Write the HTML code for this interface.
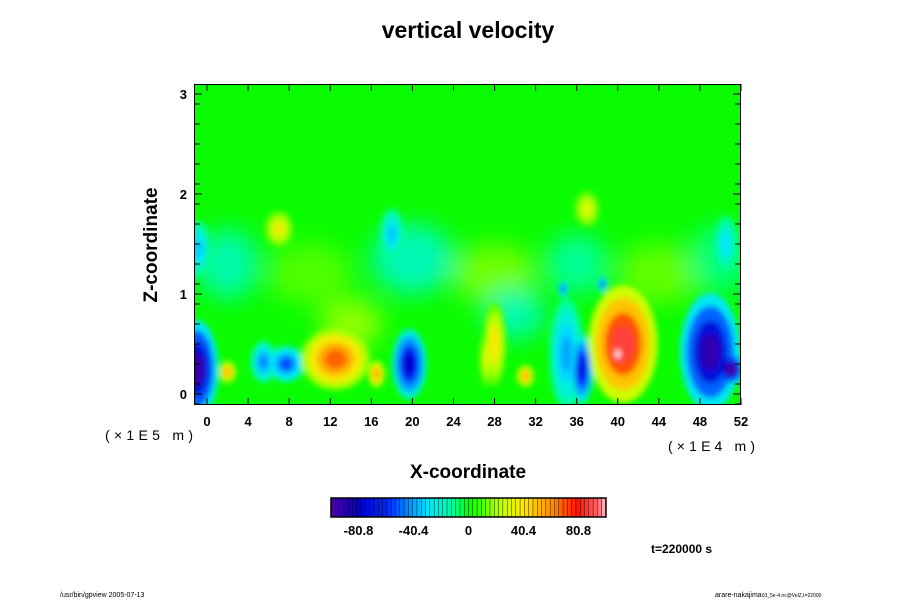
<!DOCTYPE html>
<html><head><meta charset="utf-8"><style>
body{margin:0;background:#fff;width:900px;height:600px;overflow:hidden;font-family:"Liberation Sans",sans-serif}
svg text{font-family:"Liberation Sans",sans-serif}
</style></head><body>
<svg id="c" width="900" height="600" xmlns="http://www.w3.org/2000/svg">
<defs>
<clipPath id="pc"><rect x="194" y="84" width="547" height="321"/></clipPath>
<filter id="bl" x="-50%" y="-50%" width="200%" height="200%"><feGaussianBlur stdDeviation="3"/></filter>
<filter id="bl2" x="-50%" y="-50%" width="200%" height="200%"><feGaussianBlur stdDeviation="12"/></filter>
</defs>
<text x="468" y="38" text-anchor="middle" font-size="23" font-weight="bold">vertical velocity</text>
<g id="plot" clip-path="url(#pc)"></g>
<g id="axes"></g>
<text transform="translate(157,245) rotate(-90)" text-anchor="middle" font-size="19" font-weight="bold">Z-coordinate</text>
<text x="468" y="478" text-anchor="middle" font-size="19" font-weight="bold">X-coordinate</text>
<text x="105" y="440" font-size="14" textLength="88" lengthAdjust="spacing" font-family="Liberation Mono">(×1E5 m)</text>
<text x="668" y="451" font-size="14" textLength="87" lengthAdjust="spacing" font-family="Liberation Mono">(×1E4 m)</text>
<g id="cbar"></g>
<text x="651" y="553" font-size="12" font-weight="bold">t=220000 s</text>
<text x="60" y="597" font-size="7">/usr/bin/gpview 2005-07-13</text>
<text x="715" y="597" font-size="7">arare-nakajima<tspan font-size="5">03_5e-4.nc@VelZ,t=22000</tspan></text>
</svg>
<script>
const NS="http://www.w3.org/2000/svg";
const xTicks=[0,4,8,12,16,20,24,28,32,36,40,44,48,52];
const zTicks=[0,1,2,3];
const cbLabels=[-80.8,-40.4,0,40.4,80.8];
// soft background features: x, z, rx, rz, value
const bx=[2,10,20,28,36,44,50,14,30];
const bz=[1.3,1.2,1.35,1.2,1.3,1.2,1.35,0.7,0.8];
const brx=[3,4,4,4,3,4,3,3,3];
const brz=[0.35,0.3,0.35,0.3,0.3,0.3,0.35,0.25,0.25];
const bv=[-14,10,-16,14,-10,12,-8,18,-14];
// sharp features: x, z, radius x, radius z, value
const fx=[-1,2,5.5,7.7,12.5,16.5,19.7,28,27.2,31,35,36.5,40.5,40,49,51,7,18,37,34.7,38.5,-0.8,50.5];
const fz=[0.25,0.22,0.32,0.3,0.35,0.2,0.3,0.5,0.35,0.18,0.4,0.25,0.5,0.4,0.42,0.25,1.65,1.6,1.85,1.05,1.1,1.45,1.5];
const frx=[1.5,0.6,0.9,1.3,2.4,0.6,1.2,0.8,0.5,0.6,1.2,0.8,2.4,0.5,2.1,1.0,1.0,0.8,0.9,0.35,0.35,0.8,0.8];
const frz=[0.35,0.08,0.15,0.13,0.22,0.1,0.25,0.3,0.2,0.08,0.4,0.25,0.42,0.1,0.42,0.12,0.13,0.18,0.13,0.06,0.06,0.2,0.2];
const fv=[-95,55,-45,-55,68,55,-78,40,30,55,-40,-75,88,105,-92,-100,35,-35,30,-55,-55,-35,-30];
function X(v){return 207+v*(741-207)/52}
function Z(v){return 394-v*100}
function cmap(v){
  const stops=[[-101,[80,0,160]],[-80,[0,0,200]],[-60,[0,40,255]],[-30,[0,230,255]],[-10,[0,255,150]],[0,[0,255,0]],[25,[200,255,0]],[40,[255,230,0]],[60,[255,150,0]],[80,[255,20,0]],[95,[255,100,110]],[105,[255,255,255]]];
  if(v<=stops[0][0])return "rgb("+stops[0][1]+")";
  for(let i=1;i<stops.length;i++){if(v<=stops[i][0]){const a=stops[i-1],b=stops[i],t=(v-a[0])/(b[0]-a[0]);return "rgb("+a[1].map((c,k)=>Math.round(c+(b[1][k]-c)*t)).join(",")+")";}}
  return "rgb(255,255,255)";
}
const plot=document.getElementById('plot');
const bg=document.createElementNS(NS,'rect');
bg.setAttribute('x',194);bg.setAttribute('y',84);bg.setAttribute('width',547);bg.setAttribute('height',321);bg.setAttribute('fill','rgb(10,252,0)');


plot.appendChild(bg);
const g0=document.createElementNS(NS,'g');g0.setAttribute('filter','url(#bl2)');plot.appendChild(g0);
for(let i=0;i<bx.length;i++){
  const e=document.createElementNS(NS,'ellipse');
  e.setAttribute('cx',X(bx[i]));e.setAttribute('cy',Z(bz[i]));
  e.setAttribute('rx',brx[i]*10.27);e.setAttribute('ry',brz[i]*100);
  e.setAttribute('fill',cmap(bv[i]));
  
  
  g0.appendChild(e);
}
const g=document.createElementNS(NS,'g');g.setAttribute('filter','url(#bl)');plot.appendChild(g);
const scales=[1.4,1.1,0.75,0.45],fr=[0.3,0.55,0.8,1];
for(let s=0;s<scales.length;s++){
  for(let i=0;i<fx.length;i++){
    const e=document.createElementNS(NS,'ellipse');
    e.setAttribute('cx',X(fx[i]));e.setAttribute('cy',Z(fz[i]));
    e.setAttribute('rx',frx[i]*10.27*scales[s]);e.setAttribute('ry',frz[i]*100*scales[s]);
    e.setAttribute('fill',cmap(fv[i]*fr[s]));
    
    
    g.appendChild(e);
  }
}
const ax=document.getElementById('axes');
function line(x1,y1,x2,y2,w){const l=document.createElementNS(NS,'line');l.setAttribute('x1',x1);l.setAttribute('y1',y1);l.setAttribute('x2',x2);l.setAttribute('y2',y2);l.setAttribute('stroke','#000');l.setAttribute('stroke-width',w||1);


ax.appendChild(l);}
const fr2=document.createElementNS(NS,'rect');fr2.setAttribute('x',194.5);fr2.setAttribute('y',84.5);fr2.setAttribute('width',546);fr2.setAttribute('height',320);fr2.setAttribute('fill','none');fr2.setAttribute('stroke','#000');


ax.appendChild(fr2);
function txt(x,y,s,a,size){const t=document.createElementNS(NS,'text');t.setAttribute('x',x);t.setAttribute('y',y);t.setAttribute('text-anchor',a);t.setAttribute('font-size',size);t.setAttribute('font-weight','bold');t.textContent=s;


return t;}
xTicks.forEach(v=>{line(X(v),405,X(v),398);line(X(v),84,X(v),91);ax.appendChild(txt(X(v),426,v,'middle',13));});
for(let z=-0.1;z<=3.05;z+=0.2){const y=Z(Math.round(z*10)/10);line(194,y,200,y);line(741,y,735,y);}
zTicks.forEach(v=>{line(194,Z(v),202,Z(v));line(741,Z(v),733,Z(v));ax.appendChild(txt(187,Z(v)+5,v,'end',13));});
const cb=document.getElementById('cbar');
const n=64;
for(let i=0;i<n;i++){const r=document.createElementNS(NS,'rect');const w=275/n;r.setAttribute('x',331+i*w);r.setAttribute('y',498);r.setAttribute('width',w+0.3);r.setAttribute('height',19);r.setAttribute('fill',cmap(-101+202*(i+0.5)/n));r.setAttribute('stroke','#000');r.setAttribute('stroke-width',0.4);


cb.appendChild(r);}
const cbf=document.createElementNS(NS,'rect');cbf.setAttribute('x',331);cbf.setAttribute('y',498);cbf.setAttribute('width',275);cbf.setAttribute('height',19);cbf.setAttribute('fill','none');cbf.setAttribute('stroke','#000');cbf.setAttribute('stroke-width',1.5);


cb.appendChild(cbf);
cbLabels.forEach(v=>{const t=txt(331+(v+101)/202*275,535,v,'middle',13);

cb.appendChild(t);});
</script>
</body></html>
